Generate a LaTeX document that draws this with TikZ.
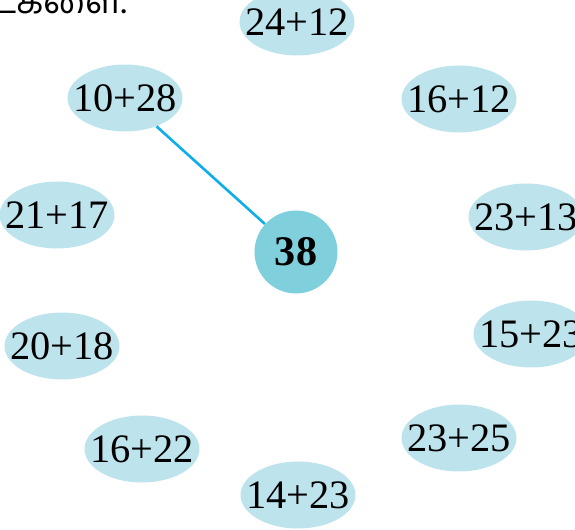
\documentclass[tikz,border=0pt]{standalone}
\usepackage{fontspec}
\setmainfont{Liberation Serif}
\newfontfamily\tamilfont[Script=Tamil]{Hind Madurai}
\usetikzlibrary{shapes.geometric}
\definecolor{pairfill}{HTML}{BDE3EC}
\definecolor{sumfill}{HTML}{80CFDC}
\definecolor{linkline}{HTML}{10AEE6}

\begin{document}
\begin{tikzpicture}[
    x=0.02cm, y=-0.02cm,
    pair/.style={
        ellipse, fill=pairfill, inner xsep=-0.23cm, inner ysep=0pt,
        minimum width=2.3cm, minimum height=1.34cm,
        font=\fontsize{23}{26}\selectfont,
    },
    sum/.style={
        circle, fill=sumfill, inner sep=0pt,
        minimum size=1.66cm,
        font=\fontsize{24}{28}\selectfont\bfseries,
    },
    link/.style={linkline, line width=1.5pt},
]
\useasboundingbox (0,0) rectangle (575,530);

% =============================================
% Heading (cut off at the top)
% =============================================
\node[anchor=base east, inner sep=0pt, font=\tamilfont\fontsize{20}{24}\selectfont]
    (heading) at (127,14) {விடைகளை.};

% =============================================
% Centre answer
% =============================================
\node[sum] (answer) at (296,252) {38};

% =============================================
% Sums round the answer
% =============================================
\node[pair] (p2412) at (297,22)  {24+12};
\node[pair] (p1028) at (125,98)  {10+28};
\node[pair] (p1612) at (459,99)  {16+12};
\node[pair] (p2117) at (57,215)  {21+17};
\node[pair] (p2313) at (526,217) {23+13};
\node[pair] (p2018) at (62,346)  {20+18};
\node[pair] (p1523) at (531,334) {15+23};
\node[pair] (p1622) at (142,449) {16+22};
\node[pair] (p2325) at (459,438) {23+25};
\node[pair] (p1423) at (298,495) {14+23};

% =============================================
% Worked example
% =============================================
\draw[link] (p1028) -- (answer);

\end{tikzpicture}
\end{document}
